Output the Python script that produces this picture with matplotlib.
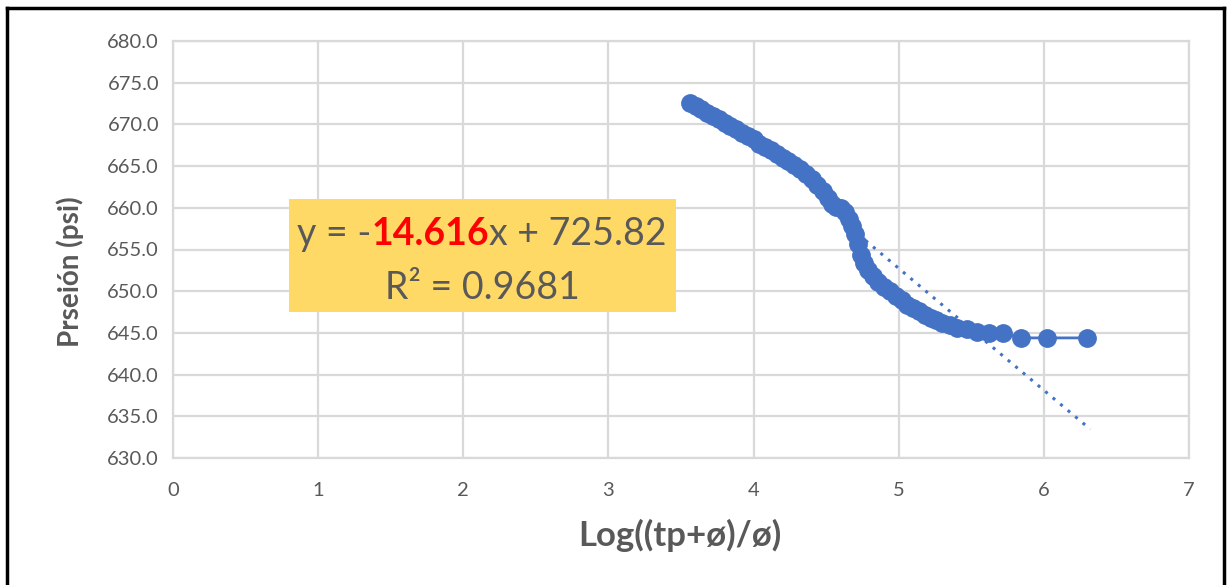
import matplotlib
matplotlib.use("Agg")
import matplotlib.pyplot as plt
from matplotlib.lines import Line2D
from matplotlib.patches import Rectangle
from matplotlib.transforms import IdentityTransform

plt.rcParams['font.family'] = ['Lato', 'DejaVu Sans']

# data: x = Log((tp+dt)/dt), y = pressure (psi)
log_t = [3.56, 3.60, 3.64, 3.68, 3.72, 3.76, 3.80, 3.84, 3.88, 3.92,
         3.96, 4.00, 4.04, 4.08, 4.12, 4.16, 4.20, 4.24, 4.28, 4.32,
         4.36, 4.40, 4.44, 4.48, 4.51, 4.54, 4.57, 4.60, 4.63, 4.66,
         4.68, 4.70, 4.72, 4.74, 4.76, 4.79, 4.82, 4.86, 4.90, 4.94,
         4.98, 5.02, 5.06, 5.10, 5.14, 5.18, 5.22, 5.26, 5.30, 5.35,
         5.40, 5.47, 5.54, 5.62, 5.72, 5.84, 6.02, 6.30]
pres = [672.6, 672.2, 671.8, 671.4, 671.0, 670.6, 670.2, 669.8, 669.4, 669.0,
        668.6, 668.2, 667.7, 667.3, 666.9, 666.5, 666.0, 665.6, 665.1, 664.6,
        664.0, 663.4, 662.7, 662.0, 661.2, 660.5, 660.1, 660.0, 659.5, 658.6,
        657.8, 656.8, 655.6, 654.4, 653.4, 652.6, 651.8, 651.1, 650.5, 650.0,
        649.4, 648.9, 648.4, 648.0, 647.6, 647.2, 646.8, 646.5, 646.2, 645.9,
        645.6, 645.5, 645.1, 645.0, 645.0, 644.4, 644.4, 644.4]

# linear trend (from the label) and the x range it covers
slope = -14.616
intercept = 725.82
r2 = 0.9681
trend_x = [4.72, 6.32]
trend_y = [slope * v + intercept for v in trend_x]

blue = '#4472C4'
grey = '#595959'

fig = plt.figure(figsize=(12.27, 5.85), dpi=100)
ax = fig.add_axes([173/1227, 1-458/585, (1189-173)/1227, (458-41)/585])

ax.plot(log_t, pres, color=blue, lw=2, marker='o', ms=12.5, zorder=3)
ax.plot(trend_x, trend_y, color=blue, lw=2.2, ls=(0, (1, 2.2)), zorder=2)

ax.set_xlim(0, 7)
ax.set_ylim(630, 680)
ax.set_xticks(range(0, 8))
ax.set_yticks([630 + 5*i for i in range(11)])
ax.set_yticklabels([f'{v:.1f}' for v in ax.get_yticks()])
ax.grid(True, color='#D9D9D9', lw=1.6)
ax.set_axisbelow(True)
for s in ax.spines.values():
    s.set_color('#D9D9D9')
    s.set_linewidth(1.6)
ax.tick_params(length=0, labelsize=14.5, labelcolor=grey)
ax.tick_params(axis='y', pad=10)
ax.tick_params(axis='x', pad=17)

ax.set_xlabel('Log((tp+ø)/ø)', fontsize=25, fontweight='bold', color=grey)
ax.set_ylabel('Prseión (psi)', fontsize=20, fontweight='bold', color=grey)
ax.xaxis.set_label_coords((680-173)/1016, -(535-458)/417)
ax.yaxis.set_label_coords((70-173)/1016, 1-(272-41)/417)
ax.xaxis.label.set_va('center')
ax.yaxis.label.set_va('center')

# equation box (pixel coordinates, origin bottom-left)
H = 585
fig.add_artist(Rectangle((289, H-312), 676-289, 312-199, transform=IdentityTransform(),
                         facecolor='#FFD966', edgecolor='none', zorder=2))

fs = 27
renderer = fig.canvas.get_renderer()
parts = [('y = -', grey, 'normal'), ('14.616', '#FF0000', 'bold'),
         ('x + 725.82', grey, 'normal')]
texts = []
for s, c, w in parts:
    t = fig.text(0, 0, s, color=c, fontweight=w, fontsize=fs, va='baseline',
                 transform=IdentityTransform(), zorder=4)
    texts.append(t)
widths = [t.get_window_extent(renderer).width for t in texts]
x0 = 482 - sum(widths) / 2
base = H - 245
for t, w in zip(texts, widths):
    t.set_position((x0, base))
    x0 += w
fig.text(482, H-299, f'R² = {r2}', color=grey, fontsize=fs, ha='center', va='baseline',
         transform=IdentityTransform(), zorder=4)

# outer frame of the chart area
for xs, ys in [([7, 7], [0, H-8]), ([7, 1224], [H-8, H-8]), ([1224, 1224], [0, H-8])]:
    fig.add_artist(Line2D(xs, ys, color='black', lw=2.5, transform=IdentityTransform()))

fig.savefig('out.png', dpi=100)
